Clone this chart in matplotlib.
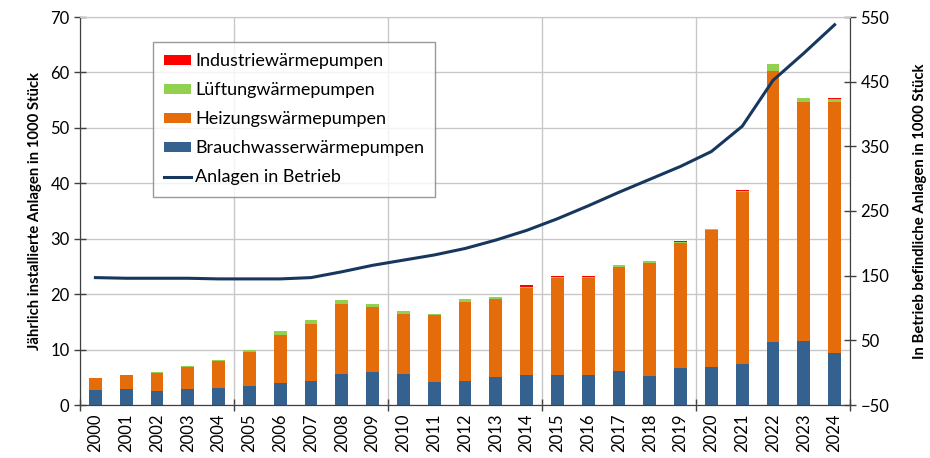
import matplotlib.pyplot as plt
import numpy as np

plt.rcParams['font.family'] = ['Lato', 'DejaVu Sans']

years = list(range(2000, 2025))

# jährlich installierte Anlagen in 1000 Stück
brauchwasser = [2.7, 2.9, 2.5, 2.9, 3.1, 3.4, 4.0, 4.3, 5.6, 6.0, 5.6, 4.2, 4.3,
                5.0, 5.5, 5.5, 5.5, 6.1, 5.2, 6.6, 6.8, 7.4, 11.3, 11.6, 9.3]
heizung = [2.1, 2.5, 3.3, 4.0, 4.8, 6.2, 8.6, 10.4, 12.6, 11.7, 10.8, 12.1, 14.3,
           14.1, 15.6, 17.5, 17.5, 18.8, 20.4, 22.6, 24.7, 31.0, 48.9, 43.1, 45.4]
lueftung = [0.1, 0.1, 0.1, 0.2, 0.2, 0.3, 0.7, 0.6, 0.7, 0.6, 0.6, 0.2, 0.6,
            0.3, 0.1, 0.1, 0.1, 0.3, 0.3, 0.2, 0.2, 0.2, 1.3, 0.6, 0.5]
industrie = [0.0, 0.0, 0.0, 0.0, 0.0, 0.0, 0.0, 0.0, 0.0, 0.0, 0.0, 0.0, 0.0,
             0.0, 0.4, 0.1, 0.1, 0.1, 0.1, 0.1, 0.1, 0.1, 0.1, 0.1, 0.1]

# Anlagen in Betrieb (rechte Achse)
in_betrieb = [147, 146, 146, 146, 145, 145, 145, 147, 156, 166, 174, 182, 192,
              205, 220, 238, 258, 279, 299, 319, 342, 381, 452, 494, 538]

c_blue = '#35618f'
c_orange = '#e46c0a'
c_green = '#92d050'
c_red = '#ff0000'
c_line = '#17375e'
fs = 12

fig = plt.figure(figsize=(9.3, 4.58), dpi=100)
ax = fig.add_axes([80 / 930, 1 - 405 / 458, 770 / 930, 388 / 458])

x = np.arange(len(years))
w = 0.42
b1 = np.array(brauchwasser)
b2 = b1 + np.array(heizung)
b3 = b2 + np.array(lueftung)

ax.bar(x, brauchwasser, w, color=c_blue, zorder=2, label='Brauchwasserwärmepumpen')
ax.bar(x, heizung, w, bottom=b1, color=c_orange, zorder=2, label='Heizungswärmepumpen')
ax.bar(x, lueftung, w, bottom=b2, color=c_green, zorder=2, label='Lüftungwärmepumpen')
ax.bar(x, industrie, w, bottom=b3, color=c_red, zorder=2, label='Industriewärmepumpen')

ax.set_xlim(-0.5, len(years) - 0.5)
ax.set_ylim(0, 70)
ax.set_yticks(range(0, 71, 10))
ax.set_xticks(x)
ax.set_xticklabels([str(y) for y in years], rotation=90, fontsize=fs)
ax.tick_params(axis='x', length=0, pad=6)
ax.set_xticks(np.arange(-0.5, len(years), 5), minor=True)
ax.tick_params(axis='x', which='minor', length=8, direction='inout', width=1, color='#404040')
ax.tick_params(axis='y', direction='inout', length=8, labelsize=fs, width=1, color='#404040')
ax.grid(axis='y', color='#c8c8c8', lw=1, zorder=0)
ax.grid(axis='x', which='minor', color='#c8c8c8', lw=1, zorder=0)
ax.set_ylabel('Jährlich installierte Anlagen in 1000 Stück', fontsize=10.7,
              fontweight='bold', labelpad=6)
for s in ['left', 'bottom', 'right']:
    ax.spines[s].set_color('#404040')
ax.spines['top'].set_color('#c8c8c8')

ax2 = ax.twinx()
ln, = ax2.plot(x, in_betrieb, color=c_line, lw=2.2, label='Anlagen in Betrieb', zorder=3)
ax2.set_ylim(-50, 550)
ax2.set_yticks(range(-50, 551, 100))
ax2.tick_params(axis='y', direction='inout', length=8, labelsize=fs, width=1, color='#404040')
ax2.set_ylabel('In Betrieb befindliche Anlagen in 1000 Stück', fontsize=10.7,
               fontweight='bold', labelpad=17, rotation=90)
for s in ['left', 'bottom', 'right']:
    ax2.spines[s].set_color('#404040')
ax2.spines['top'].set_color('#c8c8c8')

handles, labels = ax.get_legend_handles_labels()
handles = handles[::-1] + [ln]
labels = labels[::-1] + ['Anlagen in Betrieb']
leg = ax2.legend(handles, labels, loc='upper left', bbox_to_anchor=(0.095, 0.935),
                 fontsize=13, frameon=True, fancybox=False, edgecolor='#808080',
                 labelspacing=0.72, handlelength=1.5, handleheight=0.45,
                 handletextpad=0.2, borderpad=0.62, borderaxespad=0)
leg.get_frame().set_linewidth(1)

fig.savefig('out.png', dpi=100)
